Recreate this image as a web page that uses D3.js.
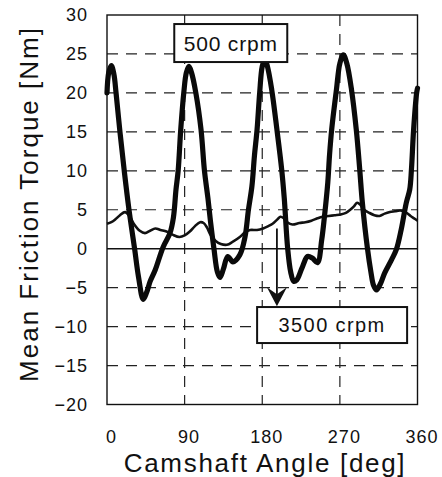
<!DOCTYPE html>
<html>
<head>
<meta charset="utf-8">
<script src="https://cdn.jsdelivr.net/npm/d3@7"></script>
<style>
  html, body { margin: 0; padding: 0; background: #fff; }
  svg { display: block; }
  text { font-family: "Liberation Sans", Arial, sans-serif; fill: #111; }
</style>
</head>
<body>
<svg id="chart" width="442" height="477"></svg>
<script>
// Camshaft friction torque over one cam revolution, two camshaft speeds.
const angle500 = [0, 2, 5, 8, 10.5, 15, 20, 25.5, 32, 36.5, 42, 46, 50, 56, 65, 73, 77, 80, 82.5, 85.5, 89, 92, 95, 98, 103, 109, 113, 117, 120, 124, 128, 131, 135, 140, 146, 154, 160, 164, 168, 171, 174, 177, 180, 183, 186, 191, 197, 202.5, 205.5, 209.5, 213, 216.5, 220, 226, 232.5, 238, 244, 249, 252, 256, 258, 260.5, 266, 270, 274, 278, 283.5, 289, 293, 296, 302, 306, 309, 312.5, 317, 322, 330, 335.5, 341, 347, 351, 353, 355.5, 359, 360];
const torque500 = [20.0, 22.6, 23.5, 22.4, 20.0, 15.0, 10.0, 5.0, 0.0, -3.6, -6.5, -5.6, -4.2, -2.7, 0.2, 2.0, 4.0, 7.6, 10.0, 15.3, 20.0, 22.6, 23.4, 22.6, 20.0, 15.3, 10.0, 6.5, 3.5, 0.0, -3.0, -3.7, -2.6, -1.0, -1.7, -0.8, 1.5, 5.0, 8.0, 12.0, 15.3, 20.0, 23.4, 24.3, 23.4, 20.4, 15.3, 10.2, 6.5, 0.0, -3.0, -4.2, -4.0, -2.5, -1.0, -1.2, -1.8, 1.2, 4.0, 8.5, 12.0, 15.3, 20.4, 23.8, 24.9, 23.8, 20.4, 15.3, 10.2, 6.0, 0.0, -3.0, -4.7, -5.3, -4.5, -3.1, -1.4, -0.1, 2.4, 5.9, 7.6, 10.2, 15.3, 20.0, 20.6];

const angle3500 = [0, 5, 10, 15, 21, 26, 31, 38, 44, 50, 56, 62, 69, 76, 84, 90, 96, 102, 108, 112, 116, 120, 126, 132, 139, 146, 154, 160, 166, 174, 181, 187, 192, 197, 201, 205, 209, 215, 223, 230, 237, 244, 250, 257, 264, 271, 277, 282, 286, 290, 294, 298, 304, 310, 316, 322, 328, 334, 340, 346, 352, 356, 360];
const torque3500 = [3.2, 3.4, 3.8, 4.3, 4.7, 4.2, 3.2, 2.3, 2.0, 2.3, 2.6, 2.4, 2.2, 1.8, 1.5, 1.7, 2.2, 2.9, 3.4, 3.3, 2.7, 1.8, 1.0, 0.6, 0.5, 0.9, 1.5, 2.1, 2.4, 2.4, 2.6, 2.9, 3.2, 3.7, 4.1, 3.9, 3.4, 3.1, 3.3, 3.4, 3.6, 3.9, 4.1, 4.2, 4.3, 4.4, 4.6, 5.0, 5.4, 5.9, 5.6, 5.0, 4.6, 4.3, 4.2, 4.5, 4.7, 4.8, 4.9, 4.7, 4.2, 3.9, 3.6];

const xTicks = [0, 90, 180, 270, 360];
const yTicks = [30, 25, 20, 15, 10, 5, 0, -5, -10, -15, -20];

const svg = d3.select("#chart");
const plot = { left: 107, right: 417.5, top: 15, bottom: 404.5 };

const x = d3.scaleLinear().domain([0, 360]).range([plot.left, plot.right]);
const y = d3.scaleLinear().domain([-20, 30]).range([plot.bottom, plot.top]);

// dashed grid
const grid = svg.append("g");
grid.selectAll("line.h")
  .data(yTicks.filter(v => v !== 0 && v !== 30 && v !== -20))
  .join("line")
  .attr("x1", plot.left).attr("x2", plot.right)
  .attr("y1", d => y(d)).attr("y2", d => y(d))
  .attr("stroke", "#222").attr("stroke-width", 1.2)
  .attr("stroke-dasharray", "11,8");
grid.selectAll("line.v")
  .data(xTicks.filter(v => v !== 0 && v !== 360))
  .join("line")
  .attr("y1", plot.top).attr("y2", plot.bottom)
  .attr("x1", d => x(d)).attr("x2", d => x(d))
  .attr("stroke", "#222").attr("stroke-width", 1.2)
  .attr("stroke-dasharray", "11,8");

// zero line
svg.append("line")
  .attr("x1", plot.left).attr("x2", plot.right)
  .attr("y1", y(0)).attr("y2", y(0))
  .attr("stroke", "#111").attr("stroke-width", 1.4);

// frame
svg.append("rect")
  .attr("x", plot.left).attr("y", plot.top)
  .attr("width", plot.right - plot.left).attr("height", plot.bottom - plot.top)
  .attr("fill", "none").attr("stroke", "#111").attr("stroke-width", 1.4);

// axes labels via d3 axes (tick lines hidden)
const yAxis = svg.append("g")
  .attr("transform", `translate(${plot.left},0)`)
  .call(d3.axisLeft(y).tickValues(yTicks).tickSize(0).tickPadding(19)
    .tickFormat(d => d < 0 ? "\u2212" + Math.abs(d) : String(d)));
yAxis.select(".domain").remove();
yAxis.selectAll("text")
  .attr("font-size", 18).attr("letter-spacing", 1)
  .style("font-family", "'Liberation Sans', Arial, sans-serif")
  .attr("fill", "#111");

const xAxis = svg.append("g")
  .attr("transform", `translate(0,${plot.bottom})`)
  .call(d3.axisBottom(x).tickValues(xTicks).tickSize(0).tickPadding(26));
xAxis.select(".domain").remove();
xAxis.selectAll("text")
  .attr("font-size", 18).attr("letter-spacing", 1).attr("dx", 4)
  .style("font-family", "'Liberation Sans', Arial, sans-serif")
  .attr("fill", "#111");

// axis titles
svg.append("text")
  .attr("x", 265).attr("y", 472)
  .attr("text-anchor", "middle")
  .attr("font-size", 26).attr("letter-spacing", 1.7)
  .text("Camshaft Angle [deg]");
svg.append("text")
  .attr("transform", "translate(38,204) rotate(-90)")
  .attr("text-anchor", "middle")
  .attr("font-size", 26).attr("letter-spacing", 2)
  .text("Mean Friction Torque [Nm]");

// curves
const line = (xs, ys) => d3.line()
  .x((d, i) => x(xs[i])).y((d, i) => y(ys[i]))
  .curve(d3.curveCatmullRom.alpha(0.5))(xs);

svg.append("path")
  .attr("d", line(angle3500, torque3500))
  .attr("fill", "none").attr("stroke", "#111")
  .attr("stroke-width", 2.6).attr("stroke-linejoin", "round");

svg.append("path")
  .attr("d", line(angle500, torque500))
  .attr("fill", "none").attr("stroke", "#0a0a0a")
  .attr("stroke-width", 5.2).attr("stroke-linejoin", "round").attr("stroke-linecap", "round");

// annotation boxes
function labelBox(cx, cy, w, h, fs, ls, txt) {
  const g = svg.append("g");
  g.append("rect")
    .attr("x", x(cx) - w / 2).attr("y", y(cy) - h / 2)
    .attr("width", w).attr("height", h)
    .attr("fill", "#fff").attr("stroke", "#111").attr("stroke-width", 2);
  g.append("text")
    .attr("x", x(cx)).attr("y", y(cy))
    .attr("dy", "0.36em")
    .attr("text-anchor", "middle")
    .attr("font-size", fs).attr("letter-spacing", ls)
    .text(txt);
}
labelBox(143.5, 26.4, 113, 38, 21, 0.8, "500 crpm");

// arrow pointing from the 3500 crpm curve to its label
const arrowAngle = 197, arrowFrom = 2.6, arrowTip = -7.4;
svg.append("line")
  .attr("x1", x(arrowAngle)).attr("x2", x(arrowAngle))
  .attr("y1", y(arrowFrom)).attr("y2", y(arrowTip) - 8)
  .attr("stroke", "#111").attr("stroke-width", 1.8);
const ax = x(arrowAngle), ay = y(arrowTip);
svg.append("path")
  .attr("d", `M${ax},${ay} L${ax - 10},${ay - 19} L${ax},${ay - 12} L${ax + 10},${ay - 19} Z`)
  .attr("fill", "#111");

labelBox(261, -9.8, 150, 36, 20, 1.4, "3500 crpm");
</script>
</body>
</html>
